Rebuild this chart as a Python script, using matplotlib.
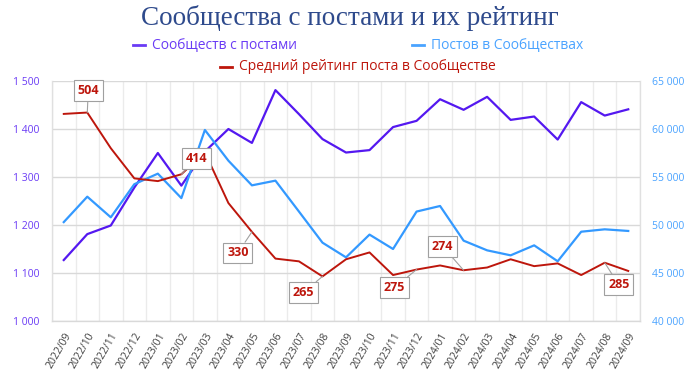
import matplotlib
matplotlib.use("Agg")
import matplotlib.pyplot as plt
from matplotlib.lines import Line2D
from matplotlib.ticker import FixedLocator, FuncFormatter

months = ["2022/09", "2022/10", "2022/11", "2022/12", "2023/01", "2023/02", "2023/03",
          "2023/04", "2023/05", "2023/06", "2023/07", "2023/08", "2023/09", "2023/10",
          "2023/11", "2023/12", "2024/01", "2024/02", "2024/03", "2024/04", "2024/05",
          "2024/06", "2024/07", "2024/08", "2024/09"]

communities = [1127, 1181, 1199, 1278, 1350, 1282, 1353, 1400, 1371, 1481, 1431, 1379,
               1351, 1356, 1404, 1417, 1462, 1440, 1467, 1419, 1426, 1378, 1456, 1428, 1441]

posts = [50300, 52950, 50800, 54250, 55350, 52800, 59900, 56700, 54130, 54620, 51400, 48160,
         46630, 49000, 47500, 51400, 51980, 48370, 47360, 46840, 47880, 46220, 49300, 49550, 49380]

rating = [502, 504, 452, 408, 404, 414, 446, 372, 330, 291, 287, 265,
          290, 300, 267, 275, 281, 274, 278, 290, 280, 284, 267, 285, 273]

labels_idx = [1, 5, 8, 11, 15, 17, 23]
label_offsets = [(1, 22), (15, 16), (-14, -21), (-19, -16), (-22, -18), (-21, 24), (14, -22)]

C_PURPLE = "#5418F0"
C_BLUE = "#3399FF"
C_RED = "#BD160C"
C_PURPLE_T = "#6A3BF5"
C_BLUE_T = "#4AA3FF"

fig = plt.figure(figsize=(7.0, 3.76), dpi=100)
ax = fig.add_axes([52/700, 1-321/376, (640-52)/700, (321-81)/376])
ax2 = ax.twinx()
ax3 = ax.twinx()

x = list(range(len(months)))

ax.set_xlim(-0.5, len(months)-0.5)
ax.set_ylim(1000, 1500)
ax2.set_ylim(40000, 65000)
ax3.set_ylim(200, 550)

# grid
ax.set_yticks(range(1000, 1501, 100))
ax.yaxis.grid(True, color="#D9D9D9", linewidth=1.0)
ax.xaxis.set_minor_locator(FixedLocator([i-0.5 for i in range(len(months)+1)]))
ax.xaxis.grid(True, which="minor", color="#EBEBEB", linewidth=1.0)
ax.set_axisbelow(True)
ax.set_xticks(x)
ax.set_xticklabels(months, rotation=60, ha="right", va="top", rotation_mode="anchor",
                   fontsize=7.5, color="#404040", family="Open Sans")
ax.tick_params(axis="x", which="both", length=0, pad=7)

fmt = FuncFormatter(lambda v, p: f"{int(v):,}".replace(",", " "))
ax.yaxis.set_major_formatter(fmt)
ax.tick_params(axis="y", length=0, labelsize=7.5, labelcolor=C_PURPLE_T, pad=9)
for lab in ax.get_yticklabels():
    lab.set_family("Open Sans")

ax2.set_yticks(range(40000, 65001, 5000))
ax2.yaxis.set_major_formatter(fmt)
ax2.tick_params(axis="y", length=0, labelsize=7.5, labelcolor=C_BLUE_T, pad=9)
for lab in ax2.get_yticklabels():
    lab.set_family("Open Sans")

ax3.set_yticks([])
for a in (ax, ax2, ax3):
    a.spines["top"].set_visible(False)
    a.spines["left"].set_color("#E0E0E0")
    a.spines["right"].set_color("#E0E0E0")
    a.spines["bottom"].set_color("#D9D9D9")

ax2.plot(x, posts, color=C_BLUE, linewidth=1.6, zorder=3)
ax.plot(x, communities, color=C_PURPLE, linewidth=1.6, zorder=3)
ax3.plot(x, rating, color=C_RED, linewidth=1.4, zorder=3)

for i, (dx, dy) in zip(labels_idx, label_offsets):
    ax3.annotate(str(rating[i]), xy=(i, rating[i]), xytext=(dx, dy),
                 textcoords="offset pixels", ha="center", va="center",
                 fontsize=9, fontweight="bold", color=C_RED, family="Open Sans",
                 bbox=dict(boxstyle="square,pad=0.3", fc="white", ec="#A0A0A0", lw=0.8),
                 arrowprops=dict(arrowstyle="-", color="#A0A0A0", lw=0.8,
                                 shrinkA=0, shrinkB=0), zorder=5)

# title
fig.text(0.5, 1-18/376, "Сообщества с постами и их рейтинг", ha="center", va="center",
         fontsize=19.5, color="#2E4A8C", family="Liberation Serif")

# legend
def leg(xs, y, color, text):
    fig.add_artist(Line2D([xs/700, (xs+12)/700], [1-y/376, 1-y/376], color=color, lw=2.0))
    fig.text((xs+19)/700, 1-y/376, text, ha="left", va="center", fontsize=10,
             color=color, family="Open Sans")

leg(133, 45, C_PURPLE_T, "Сообществ с постами")
leg(412, 45, C_BLUE_T, "Постов в Сообществах")
leg(220, 67, C_RED, "Средний рейтинг поста в Сообществе")

fig.savefig("out.png", dpi=100)
